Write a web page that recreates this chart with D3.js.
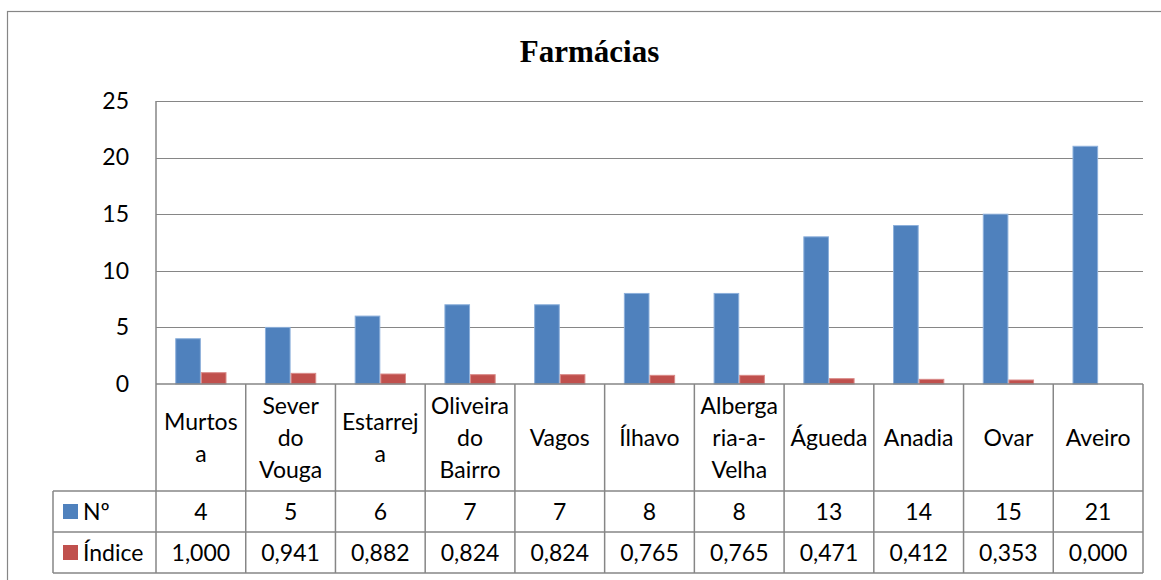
<!DOCTYPE html>
<html>
<head>
<meta charset="utf-8">
<script src="https://cdn.jsdelivr.net/npm/d3@7"></script>
<style>
  html, body { margin: 0; padding: 0; background: #fff; }
  svg { display: block; }
</style>
</head>
<body>
<svg id="chart" width="1161" height="580"></svg>
<script>
const categories = ["Murtosa", "Sever do Vouga", "Estarreja", "Oliveira do Bairro", "Vagos", "Ílhavo", "Albergaria-a-Velha", "Águeda", "Anadia", "Ovar", "Aveiro"];
const categoryLines = [["Murtos", "a"], ["Sever", "do", "Vouga"], ["Estarrej", "a"], ["Oliveira", "do", "Bairro"], ["Vagos"], ["Ílhavo"], ["Alberga", "ria-a-", "Velha"], ["Águeda"], ["Anadia"], ["Ovar"], ["Aveiro"]];
const seriesNames = ["Nº", "Índice"];
const numValues = [4, 5, 6, 7, 7, 8, 8, 13, 14, 15, 21];
const indiceValues = [1.000, 0.941, 0.882, 0.824, 0.824, 0.765, 0.765, 0.471, 0.412, 0.353, 0.000];
const yTicks = [0, 5, 10, 15, 20, 25];
const title = "Farmácias";

const colors = ["#4F81BD", "#C0504D"];
const strokes = ["#8DB0DB", "#D98A88"];
const font = "Lato, 'Open Sans', sans-serif";
const fs = 23;

const svg = d3.select("#chart");
const L = 156, R = 1143, T = 101, B = 384;
const catRowB = 491, row1B = 532, row2B = 573, legL = 53;

// chart border
svg.append("rect").attr("x", 7.5).attr("y", 11.5).attr("width", 1170).attr("height", 600)
  .attr("fill", "#fff").attr("stroke", "#868686").attr("stroke-width", 1.2);

// title
svg.append("text").attr("x", 589.5).attr("y", 62).attr("text-anchor", "middle")
  .attr("font-family", "'Liberation Serif', 'Times New Roman', serif").attr("font-weight", "bold")
  .attr("font-size", 31).attr("fill", "#000").text(title);

const y = d3.scaleLinear().domain([0, 25]).range([B, T]);
const x = d3.scaleBand().domain(categories).range([L, R]).paddingInner(0).paddingOuter(0);
const bw = x.bandwidth();
const barW = bw / 3.5;
const xs = d3.scaleBand().domain(seriesNames).range([0.75 * barW, 2.75 * barW]).padding(0);

// gridlines
const grid = svg.append("g");
grid.selectAll("line").data(yTicks.filter(t => t > 0)).join("line")
  .attr("x1", L).attr("x2", R)
  .attr("y1", d => Math.round(y(d)) + 0.5).attr("y2", d => Math.round(y(d)) + 0.5)
  .attr("stroke", "#868686").attr("stroke-width", 1.2);

// y axis via d3.axisLeft
const yAxis = d3.axisLeft(y).tickValues(yTicks).tickSize(0).tickPadding(27).tickFormat(d3.format("d"));
const ga = svg.append("g").attr("transform", `translate(${L},0)`).call(yAxis);
ga.select(".domain").remove();
ga.selectAll("text").attr("font-family", font).attr("font-size", fs).attr("fill", "#000");

// bars
const data = categories.map((c, i) => ({ c, vals: [numValues[i], indiceValues[i]] }));
const groups = svg.append("g").selectAll("g").data(data).join("g")
  .attr("transform", d => `translate(${x(d.c)},0)`);
groups.selectAll("rect").data(d => d.vals.map((v, k) => ({ k, v, s: seriesNames[k] }))).join("rect")
  .attr("x", d => xs(d.s) + 0.5)
  .attr("width", xs.bandwidth() - 1)
  .attr("y", d => y(d.v))
  .attr("height", d => Math.max(0, B - y(d.v)))
  .attr("fill", d => colors[d.k])
  .attr("stroke", d => d.v > 0 ? strokes[d.k] : "none")
  .attr("stroke-width", 1);

// table lines
const tl = svg.append("g").attr("stroke", "#868686").attr("stroke-width", 1.5);
tl.append("line").attr("x1", L).attr("x2", L).attr("y1", T).attr("y2", row2B);
tl.append("line").attr("x1", L).attr("x2", R).attr("y1", B).attr("y2", B);
[catRowB, row1B, row2B].forEach(yy => {
  tl.append("line").attr("x1", legL).attr("x2", R).attr("y1", yy).attr("y2", yy);
});
tl.append("line").attr("x1", legL).attr("x2", legL).attr("y1", catRowB).attr("y2", row2B);
categories.forEach(c => {
  const xr = x(c) + bw;
  tl.append("line").attr("x1", xr).attr("x2", xr).attr("y1", B).attr("y2", row2B);
});

// category labels
const lineH = 32;
const catMid = (B + catRowB) / 2;
categories.forEach((c, i) => {
  const lines = categoryLines[i];
  const t = svg.append("text").attr("text-anchor", "middle")
    .attr("font-family", font).attr("font-size", fs).attr("fill", "#000");
  const startY = catMid - (lines.length - 1) * lineH / 2;
  lines.forEach((ln, j) => {
    t.append("tspan").attr("x", x(c) + bw / 2).attr("y", startY + j * lineH).attr("dy", "0.35em").text(ln);
  });
});

// value rows
const fmtIdx = v => v.toFixed(3).replace(".", ",");
const rows = [
  { vals: numValues.map(v => String(v)), top: catRowB, bot: row1B },
  { vals: indiceValues.map(fmtIdx), top: row1B, bot: row2B }
];
rows.forEach((r, k) => {
  const mid = (r.top + r.bot) / 2;
  categories.forEach((c, i) => {
    svg.append("text").attr("x", x(c) + bw / 2).attr("y", mid).attr("dy", "0.35em")
      .attr("text-anchor", "middle").attr("font-family", font).attr("font-size", fs)
      .attr("fill", "#000").text(r.vals[i]);
  });
  svg.append("rect").attr("x", 63).attr("y", mid - 7.5).attr("width", 15).attr("height", 15)
    .attr("fill", colors[k]);
  svg.append("text").attr("x", 83).attr("y", mid).attr("dy", "0.35em")
    .attr("font-family", font).attr("font-size", fs).attr("fill", "#000").text(seriesNames[k]);
});
</script>
</body>
</html>
